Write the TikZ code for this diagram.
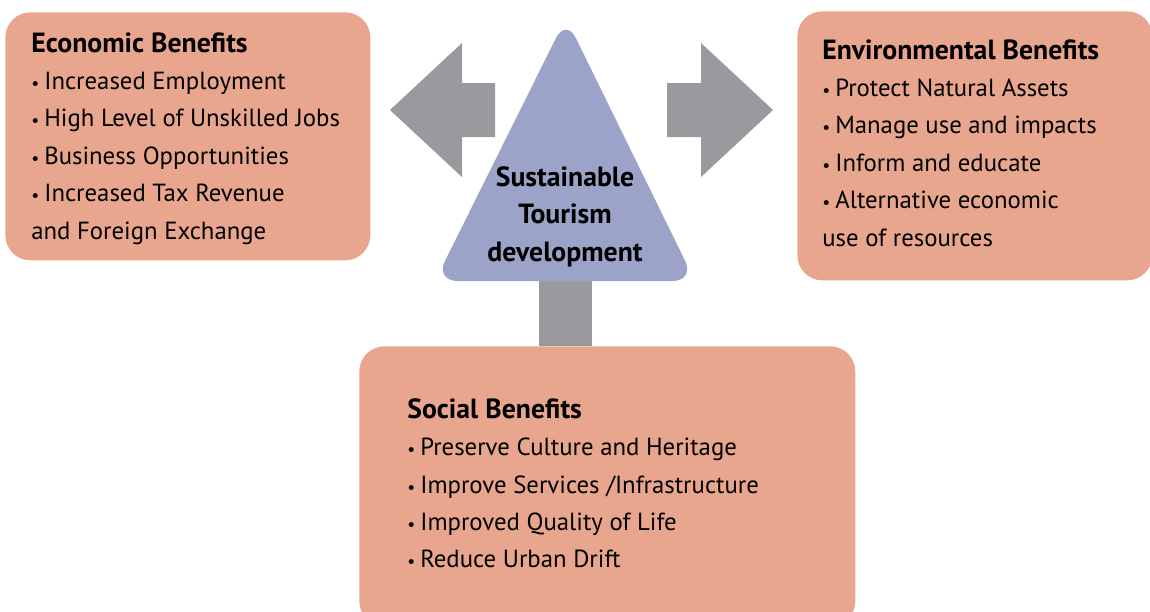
\documentclass[tikz,border=0pt]{standalone}
\usepackage{fontspec}
\setmainfont{PT Sans}
\usetikzlibrary{positioning}
\definecolor{boxfill}{HTML}{E9A68E}
\definecolor{arrowgray}{HTML}{9A9A9E}
\definecolor{trifill}{HTML}{9BA3C8}
\pgfdeclarelayer{bg}
\pgfsetlayers{bg,main}
\newcommand{\itm}{{\fontsize{10}{10}\selectfont\textbullet}\hspace{0.1cm}}
\newcommand{\hd}[1]{{\bfseries\fontsize{15.8}{21.3}\selectfont #1}}

\begin{document}
\begin{tikzpicture}[x=0.02cm,y=-0.02cm,
    box/.style={fill=boxfill,rounded corners=0.5cm,anchor=north west,inner sep=0pt},
    txt/.style={align=left,anchor=north west,inner sep=0pt,font=\fontsize{14.1}{21.3}\selectfont},
    stem/.style={draw=arrowgray,line width=1.06cm},
    blockarrow/.style={fill=arrowgray}]
  \begin{pgfonlayer}{bg}
    \fill[white] (0,0) rectangle (1150,612);
  \end{pgfonlayer}
  \clip (0,0) rectangle (1150,612);

  % the three boxes
  \node[box,minimum width=7.3cm,minimum height=4.96cm] (econ) at (5,12) {};
  \node[box,minimum width=7.1cm,minimum height=5.38cm] (env) at (797,11) {};
  \node[box,minimum width=9.92cm,minimum height=5.6cm] (soc) at (359,346) {};

  \node[txt] (econtxt) at (31,32) {\hd{Economic Benefits}\\
    \itm Increased Employment\\
    \itm High Level of Unskilled Jobs\\
    \itm Business Opportunities\\
    \itm Increased Tax Revenue\\
    and Foreign Exchange};
  \node[txt] (envtxt) at (822,39) {\hd{Environmental Benefits}\\
    \itm Protect Natural Assets\\
    \itm Manage use and impacts\\
    \itm Inform and educate\\
    \itm Alternative economic\\
    use of resources};
  \node[txt] (soctxt) at (407,398) {\hd{Social Benefits}\\
    \itm Preserve Culture and Heritage\\
    \itm Improve Services /Infrastructure\\
    \itm Improved Quality of Life\\
    \itm Reduce Urban Drift};

  % centre sign
  \fill[trifill,rounded corners=0.45cm] (565,281) -- (695,281) -- (566,18) -- (435,281) -- cycle;
  \node[txt,anchor=north,align=center] (tri) at (565,166)
    {\hd{Sustainable}\\\hd{Tourism}\\\hd{development}};
  \begin{pgfonlayer}{bg}
    \draw[stem] (tri.south) -- (tri.south |- soc.north);
  \end{pgfonlayer}

  % side arrows
  \fill[blockarrow] (495,83) -- (462,83) -- (462,43) -- (390,110) -- (462,177) -- (462,137) -- (495,137) -- cycle;
  \fill[blockarrow] (667,83) -- (701,83) -- (701,43) -- (773,110) -- (701,177) -- (701,137) -- (667,137) -- cycle;
\end{tikzpicture}
\end{document}
